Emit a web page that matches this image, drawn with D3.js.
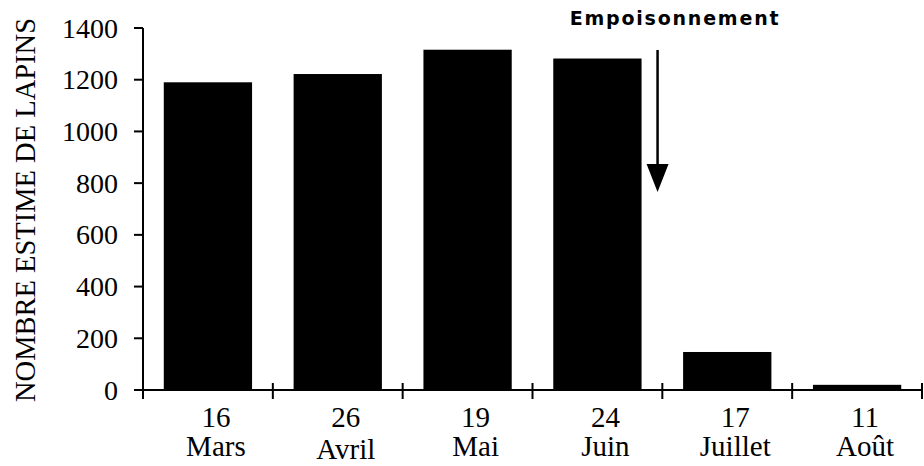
<!DOCTYPE html>
<html>
<head>
<meta charset="utf-8">
<script src="https://cdn.jsdelivr.net/npm/d3@7"></script>
<style>
  body { margin: 0; background: #fff; }
  svg { display: block; }
  .tick-label, .cat-label, .y-title { font-family: "Liberation Serif", "Times New Roman", serif; fill: #000; }
</style>
</head>
<body>
<div id="chart"></div>
<script>
var days = ["16", "26", "19", "24", "17", "11"];
var months = ["Mars", "Avril", "Mai", "Juin", "Juillet", "Août"];
var counts = [1190, 1222, 1316, 1282, 147, 20];
var yTicks = [0, 200, 400, 600, 800, 1000, 1200, 1400];

var width = 924, height = 466;
var plotLeft = 143, plotRight = 922, plotTop = 28, plotBottom = 390;

var svg = d3.select("#chart").append("svg")
  .attr("width", width)
  .attr("height", height);

var x = d3.scaleBand()
  .domain(months)
  .range([plotLeft, plotRight])
  .paddingInner(0.32)
  .paddingOuter(0.16);

var y = d3.scaleLinear()
  .domain([0, 1400])
  .range([plotBottom, plotTop]);

// bars
svg.selectAll(".bar")
  .data(counts)
  .enter()
  .append("rect")
    .attr("class", "bar")
    .attr("x", function(d, i) { return x(months[i]); })
    .attr("width", x.bandwidth())
    .attr("y", function(d) { return y(d); })
    .attr("height", function(d) { return plotBottom - y(d); })
    .attr("fill", "#000");

// y axis
svg.append("line")
  .attr("x1", plotLeft).attr("x2", plotLeft)
  .attr("y1", y(1400)).attr("y2", plotBottom + 8)
  .attr("stroke", "#000").attr("stroke-width", 2);

svg.selectAll(".ytick")
  .data(yTicks)
  .enter()
  .append("line")
    .attr("class", "ytick")
    .attr("x1", plotLeft - 9).attr("x2", plotLeft)
    .attr("y1", function(d) { return y(d); })
    .attr("y2", function(d) { return y(d); })
    .attr("stroke", "#000").attr("stroke-width", 2);

svg.selectAll(".tick-label")
  .data(yTicks)
  .enter()
  .append("text")
    .attr("class", "tick-label")
    .attr("x", plotLeft - 25)
    .attr("y", function(d) { return y(d); })
    .attr("dy", "0.34em")
    .attr("text-anchor", "end")
    .attr("font-size", 28)
    .text(function(d) { return d; });

// x axis
svg.append("line")
  .attr("x1", plotLeft - 8).attr("x2", plotRight)
  .attr("y1", plotBottom).attr("y2", plotBottom)
  .attr("stroke", "#000").attr("stroke-width", 2);

var bounds = months.map(function(m, i) { return plotLeft + i * x.step(); }).concat([plotRight]);
svg.selectAll(".xtick")
  .data(bounds)
  .enter()
  .append("line")
    .attr("class", "xtick")
    .attr("x1", function(d) { return d; })
    .attr("x2", function(d) { return d; })
    .attr("y1", plotBottom - 7).attr("y2", plotBottom + 9)
    .attr("stroke", "#000").attr("stroke-width", 2);

svg.selectAll(".cat-day")
  .data(days)
  .enter()
  .append("text")
    .attr("class", "cat-label")
    .attr("x", function(d, i) { return x(months[i]) + x.bandwidth() / 2 + 8; })
    .attr("y", 427)
    .attr("text-anchor", "middle")
    .attr("font-size", 29)
    .text(function(d) { return d; });

svg.selectAll(".cat-month")
  .data(months)
  .enter()
  .append("text")
    .attr("class", "cat-label")
    .attr("x", function(d) { return x(d) + x.bandwidth() / 2 + 8; })
    .attr("y", function(d) { return d === "Avril" ? 459 : 456; })
    .attr("text-anchor", "middle")
    .attr("font-size", 29)
    .text(function(d) { return d; });

// y title
svg.append("text")
  .attr("class", "y-title")
  .attr("transform", "translate(35,210) rotate(-90)")
  .attr("text-anchor", "middle")
  .attr("font-size", 28.5)
  .text("NOMBRE ESTIME DE LAPINS");

// annotation
var ax = x("Juin") + x.bandwidth() + 16;
svg.append("line")
  .attr("x1", ax).attr("x2", ax)
  .attr("y1", 50).attr("y2", 170)
  .attr("stroke", "#000").attr("stroke-width", 2.5);
svg.append("path")
  .attr("d", "M" + (ax - 11) + ",164 L" + (ax + 11) + ",164 L" + ax + ",192 Z")
  .attr("fill", "#000");

svg.append("text")
  .attr("x", 675)
  .attr("y", 25)
  .attr("text-anchor", "middle")
  .attr("font-family", "'DejaVu Sans', sans-serif")
  .attr("font-weight", "bold")
  .attr("font-size", 19)
  .attr("letter-spacing", 1.8)
  .text("Empoisonnement");
</script>
</body>
</html>
